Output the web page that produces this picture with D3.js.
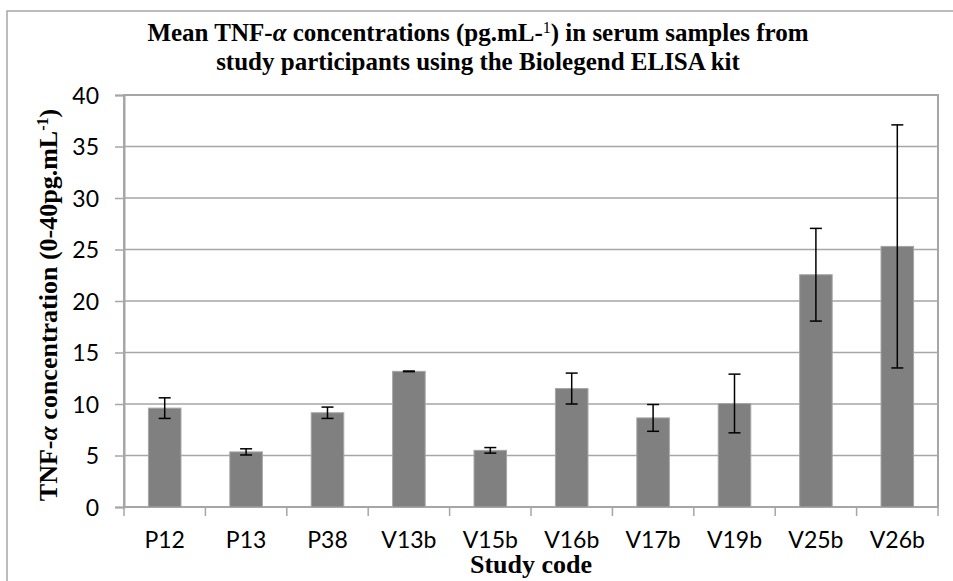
<!DOCTYPE html>
<html>
<head>
<meta charset="utf-8">
<script src="https://cdn.jsdelivr.net/npm/d3@7"></script>
<style>
	body { margin: 0; background: #fff; }
	.bar { fill: #808080; stroke: #a6a6a6; stroke-width: 1; }
	.tick text { font-family: Lato, "Open Sans", sans-serif; font-size: 23px; fill: #000; }
	.title, .axis-title { font-family: "Liberation Serif", "Times New Roman", serif; font-weight: bold; fill: #000; }
</style>
</head>
<body>
<svg width="953" height="581" id="chart"></svg>
<script>
	// data
	var codes = ["P12", "P13", "P38", "V13b", "V15b", "V16b", "V17b", "V19b", "V25b", "V26b"];
	var means = [9.6, 5.35, 9.15, 13.17, 5.5, 11.5, 8.65, 10.05, 22.55, 25.3];
	var errors = [1.0, 0.3, 0.55, 0.03, 0.27, 1.5, 1.3, 2.85, 4.5, 11.8];
	var yTicks = [0, 5, 10, 15, 20, 25, 30, 35, 40];

	var data = codes.map(function(c, i) { return { code: c, mean: means[i], err: errors[i] }; });

	var svg = d3.select("svg#chart"),
		margin = { top: 95, right: 15, bottom: 74, left: 124 },
		width = +svg.attr("width") - margin.left - margin.right,
		height = +svg.attr("height") - margin.top - margin.bottom;

	// outer chart frame
	svg.append("rect")
		.attr("x", 7).attr("y", 11)
		.attr("width", 960).attr("height", 600)
		.attr("fill", "none")
		.attr("stroke", "#a6a6a6")
		.attr("stroke-width", 1.5);

	var g = svg.append("g").attr("transform", "translate(" + margin.left + "," + margin.top + ")");

	var x = d3.scaleBand()
		.domain(codes)
		.range([0, width])
		.paddingInner(0.6)
		.paddingOuter(0.3);

	var xTick = d3.scaleBand().domain(codes).range([0, width]);

	var y = d3.scaleLinear()
		.domain([0, 40])
		.range([height, 0]);

	// gridlines
	g.selectAll(".grid")
		.data(yTicks)
		.enter().append("line")
		.attr("x1", 0).attr("x2", width)
		.attr("y1", function(d) { return y(d); })
		.attr("y2", function(d) { return y(d); })
		.attr("stroke", "#a6a6a6")
		.attr("stroke-width", 1.5);

	// plot area border
	g.append("rect")
		.attr("width", width).attr("height", height)
		.attr("fill", "none")
		.attr("stroke", "#a6a6a6")
		.attr("stroke-width", 2);

	// bars
	g.selectAll(".bar")
		.data(data)
		.enter().append("rect")
		.attr("class", "bar")
		.attr("x", function(d) { return x(d.code); })
		.attr("width", x.bandwidth())
		.attr("y", function(d) { return y(d.mean); })
		.attr("height", function(d) { return height - y(d.mean); });

	// error bars
	var eb = g.selectAll(".err")
		.data(data)
		.enter().append("g")
		.attr("class", "err")
		.attr("stroke", "#000")
		.attr("stroke-width", 1.5);

	var cx = function(d) { return x(d.code) + x.bandwidth() / 2; };

	eb.append("line")
		.attr("x1", cx).attr("x2", cx)
		.attr("y1", function(d) { return y(d.mean + d.err); })
		.attr("y2", function(d) { return y(d.mean - d.err); });
	eb.append("line")
		.attr("x1", function(d) { return cx(d) - 6; })
		.attr("x2", function(d) { return cx(d) + 6; })
		.attr("y1", function(d) { return y(d.mean + d.err); })
		.attr("y2", function(d) { return y(d.mean + d.err); });
	eb.append("line")
		.attr("x1", function(d) { return cx(d) - 6; })
		.attr("x2", function(d) { return cx(d) + 6; })
		.attr("y1", function(d) { return y(d.mean - d.err); })
		.attr("y2", function(d) { return y(d.mean - d.err); });

	// x axis: ticks at band boundaries
	var xAxis = g.append("g")
		.attr("transform", "translate(0," + height + ")");
	xAxis.selectAll(".xt")
		.data(codes.concat(["end"]))
		.enter().append("line")
		.attr("x1", function(d, i) { return i < codes.length ? xTick(d) : width; })
		.attr("x2", function(d, i) { return i < codes.length ? xTick(d) : width; })
		.attr("y1", 0).attr("y2", 9)
		.attr("stroke", "#a6a6a6")
		.attr("stroke-width", 1.5);
	xAxis.append("g")
		.call(d3.axisBottom(xTick).tickSize(0).tickPadding(41))
		.call(function(a) { a.select(".domain").remove(); })
		.selectAll("text")
		.attr("dy", "0");

	// y axis
	g.append("g")
		.call(d3.axisLeft(y).tickValues(yTicks).tickSize(9).tickPadding(16))
		.call(function(a) {
			a.select(".domain").attr("stroke", "#a6a6a6").attr("stroke-width", 2);
			a.selectAll(".tick line").attr("stroke", "#a6a6a6").attr("stroke-width", 1.5);
			a.selectAll("text").attr("dy", "0.35em");
		});

	// title
	var title = svg.append("text")
		.attr("class", "title")
		.attr("text-anchor", "middle")
		.style("font-size", "25px");
	var t1 = title.append("tspan").attr("x", 478).attr("y", 41);
	t1.append("tspan").text("Mean TNF-");
	t1.append("tspan").style("font-style", "italic").text("α");
	t1.append("tspan").text(" concentrations (pg.mL-");
	t1.append("tspan").attr("dy", -8).style("font-size", "16px").style("font-weight", "normal").text("1");
	t1.append("tspan").attr("dy", 8).text(") in serum samples from");
	title.append("tspan").attr("x", 478).attr("y", 70)
		.text("study participants using the Biolegend ELISA kit");

	// y axis title
	var yt = svg.append("text")
		.attr("class", "axis-title")
		.attr("text-anchor", "middle")
		.attr("transform", "translate(57," + 305 + ") rotate(-90)")
		.style("font-size", "26px");
	yt.append("tspan").text("TNF-");
	yt.append("tspan").style("font-style", "italic").text("α");
	yt.append("tspan").text(" concentration (0-40pg.mL");
	yt.append("tspan").attr("dy", -9).style("font-size", "16px").text("-1");
	yt.append("tspan").attr("dy", 9).text(")");

	// x axis title
	svg.append("text")
		.attr("class", "axis-title")
		.attr("text-anchor", "middle")
		.attr("x", margin.left + width / 2)
		.attr("y", 573)
		.style("font-size", "26px")
		.text("Study code");
</script>
</body>
</html>
